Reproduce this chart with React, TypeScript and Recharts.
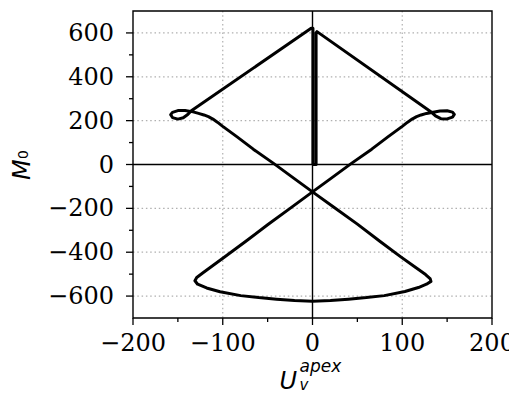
import React from 'react';
import { LineChart, Line, XAxis, YAxis, CartesianGrid, ReferenceLine, ReferenceArea, Label } from 'recharts';

// Closed trajectory (U_v^apex, M_0), in drawing order
const curveX = [
  0.5, 0.5, -1.5,
  -135, -139, -144, -150, -156, -158, -156, -150, -142, -133, -127, -121,
  -116, -111, -106, -100, -84, -66, -43, -21, 0, 25, 50, 75, 98, 115, 126, 131, 132, 127, 118, 103,
  80, 60, 40, 20, 0, -20, -40, -60, -80, -103, -118, -128, -131, -129, -122,
  -98, -75, -50, -25, 0, 21, 43, 66, 84, 100, 106, 111, 116, 121, 127,
  133, 142, 150, 156, 158, 156, 150, 143, 137, 133,
  5, 4, 4, 0.5,
];
const curveY = [
  0, 621, 621,
  245, 228, 213, 207, 214, 227, 238, 246, 246, 240, 233, 226,
  218, 207, 193, 174, 126, 70, 4, -62, -125, -198, -272, -350, -420, -470, -502, -520, -533, -546, -561, -579,
  -598, -607, -614, -620, -624, -620, -614, -607, -598, -580, -563, -546, -530, -515, -494,
  -422, -352, -275, -200, -125, -62, 4, 70, 126, 174, 193, 207, 218, 226, 233,
  237, 244, 245, 239, 228, 216, 208, 209, 222, 237,
  606, 600, 0, 0,
];

const xMajorTicks = [-200, -100, 0, 100, 200];
const xMinorTicks = [-150, -50, 50, 150];
const yMajorTicks = [-600, -400, -200, 0, 200, 400, 600];
const yMinorTicks = [-500, -300, -100, 100, 300, 500];
const xGrid = [-100, 100];
const yGrid = [-600, -400, -200, 200, 400, 600];

const data = curveX.map((x, i) => ({ x, y: curveY[i] }));

const fmt = (v: number) => (v < 0 ? `\u2212${Math.abs(v)}` : `${v}`);
const TICK_FONT = 'DejaVu Serif';
const LABEL_FONT = 'DejaVu Sans';

const XTick = (props: any) => {
  const { x, y, payload } = props;
  const v = payload.value;
  const major = xMajorTicks.includes(v);
  return (
    <g>
      <line x1={x} x2={x} y1={y} y2={y + (major ? 7 : 4)} stroke="#000" strokeWidth={1.3} />
      {major && (
        <text x={x} y={y + 33} textAnchor="middle" fontFamily={TICK_FONT} fontSize={24} fill="#000">
          {fmt(v)}
        </text>
      )}
    </g>
  );
};

const YTick = (props: any) => {
  const { x, y, payload } = props;
  const v = payload.value;
  const major = yMajorTicks.includes(v);
  return (
    <g>
      <line x1={x} x2={x - (major ? 7 : 4)} y1={y} y2={y} stroke="#000" strokeWidth={1.3} />
      {major && (
        <text x={x - 19} y={y + 8} textAnchor="end" fontFamily={TICK_FONT} fontSize={24} fill="#000">
          {fmt(v)}
        </text>
      )}
    </g>
  );
};

const XLabel = (props: any) => {
  const vb = props.viewBox || { x: 125, width: 359 };
  const cx = vb.x + vb.width / 2;
  return (
    <g fontFamily={LABEL_FONT} fontStyle="italic" fill="#000">
      <text x={cx - 33} y={381} fontSize={24}>U</text>
      <text x={cx - 13} y={364} fontSize={17}>apex</text>
      <text x={cx - 13} y={382} fontSize={15}>v</text>
    </g>
  );
};

const YLabel = () => (
  <g transform="translate(22,156) rotate(-90)" fontFamily={LABEL_FONT} fontStyle="italic" fill="#000">
    <text x={-16} y={0} fontSize={24}>M</text>
    <text x={5} y={-2} fontSize={14} fontStyle="normal">0</text>
  </g>
);

export default function App() {
  return (
    <LineChart width={509} height={386} data={data} margin={{ top: 3, right: 25, left: 65, bottom: 46 }}>
      <CartesianGrid
        stroke="#b0b0b0"
        strokeWidth={1.2}
        strokeDasharray="1.5 2.8"
        horizontalValues={yGrid}
        verticalValues={xGrid}
      />
      <XAxis
        type="number"
        dataKey="x"
        domain={[-200, 200]}
        ticks={[...xMajorTicks, ...xMinorTicks].sort((a, b) => a - b)}
        allowDataOverflow
        axisLine={false}
        tickLine={false}
        tickSize={0}
        tickMargin={0}
        tick={<XTick />}
        height={30}
        interval={0}
      >
        <Label content={<XLabel />} />
      </XAxis>
      <YAxis
        type="number"
        dataKey="y"
        domain={[-700, 700]}
        ticks={[...yMajorTicks, ...yMinorTicks].sort((a, b) => a - b)}
        allowDataOverflow
        axisLine={false}
        tickLine={false}
        tickSize={0}
        tickMargin={0}
        tick={<YTick />}
        width={60}
        interval={0}
      >
        <Label content={<YLabel />} />
      </YAxis>
      <ReferenceLine x={0} stroke="#000" strokeWidth={1.4} />
      <ReferenceLine y={0} stroke="#000" strokeWidth={1.4} />
      <Line
        type="linear"
        dataKey="y"
        stroke="#000"
        strokeWidth={3}
        dot={false}
        activeDot={false}
        strokeLinejoin="round"
        isAnimationActive={false}
      />
      <ReferenceArea x1={-200} x2={200} y1={-700} y2={700} fill="none" fillOpacity={0} stroke="#000" strokeWidth={1.4} />
    </LineChart>
  );
}
